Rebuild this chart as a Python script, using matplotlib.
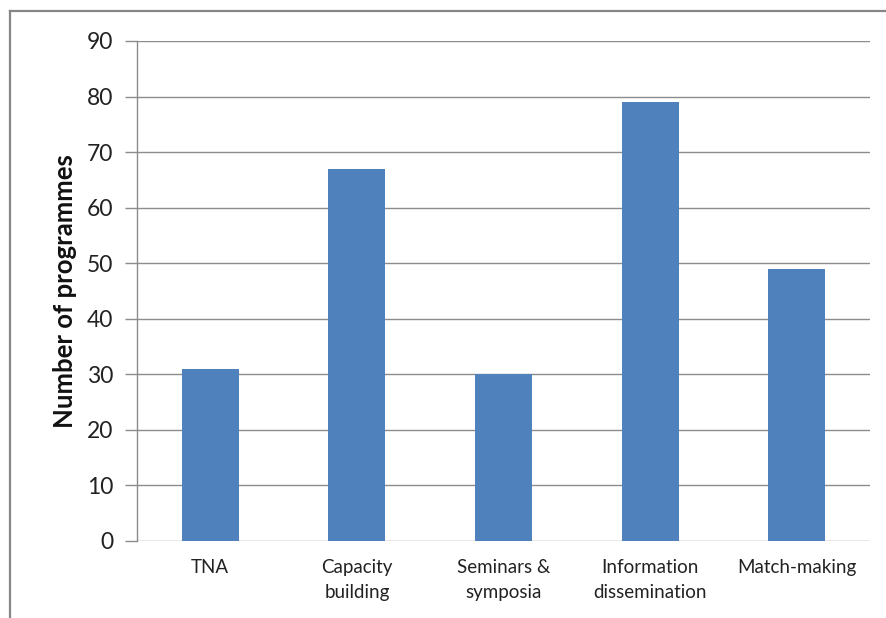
import matplotlib
matplotlib.use("Agg")
import matplotlib.pyplot as plt
from matplotlib.lines import Line2D

categories = ["TNA", "Capacity\nbuilding", "Seminars &\nsymposia",
              "Information\ndissemination", "Match-making"]
values = [31, 67, 30, 79, 49]
y_ticks = [0, 10, 20, 30, 40, 50, 60, 70, 80, 90]

plt.rcParams['font.family'] = ['Lato', 'DejaVu Sans']

fig = plt.figure(figsize=(8.86, 6.18), dpi=100)
ax = fig.add_axes([0.1546, 0.1246, 0.982 - 0.1546, 0.9337 - 0.1246])

x = range(len(categories))
ax.bar(x, values, width=0.39, color="#4F81BD", zorder=3)

ax.set_xlim(-0.5, len(categories) - 0.5)
ax.set_ylim(0, 90)
ax.set_yticks(y_ticks)
ax.set_yticklabels([str(t) for t in y_ticks], fontsize=16.5, color="#222222")
ax.set_xticks(list(x))
ax.set_xticklabels(categories, fontsize=13.5, color="#222222", linespacing=1.6)

grid_color = "#8c8c8c"
ax.yaxis.grid(True, color=grid_color, linewidth=1.0, zorder=0)
ax.set_axisbelow(True)
for side in ["top", "right", "bottom"]:
    ax.spines[side].set_visible(False)
ax.spines["left"].set_color(grid_color)
ax.spines["left"].set_linewidth(1.0)

ax.tick_params(axis="y", length=9, width=1.0, color=grid_color, pad=8)
ax.tick_params(axis="x", length=0, pad=13)

ax.set_ylabel("Number of programmes", fontsize=18.5, fontweight="bold",
              color="#111111", labelpad=7)

# outer chart frame (left and top edges)
border = "#868686"
fig.add_artist(Line2D([10 / 886, 1.0], [1 - 11 / 618, 1 - 11 / 618],
                      transform=fig.transFigure, color=border, linewidth=1.6))
fig.add_artist(Line2D([10 / 886, 10 / 886], [0.0, 1 - 11 / 618],
                      transform=fig.transFigure, color=border, linewidth=1.6))

fig.savefig("out.png", dpi=100)
